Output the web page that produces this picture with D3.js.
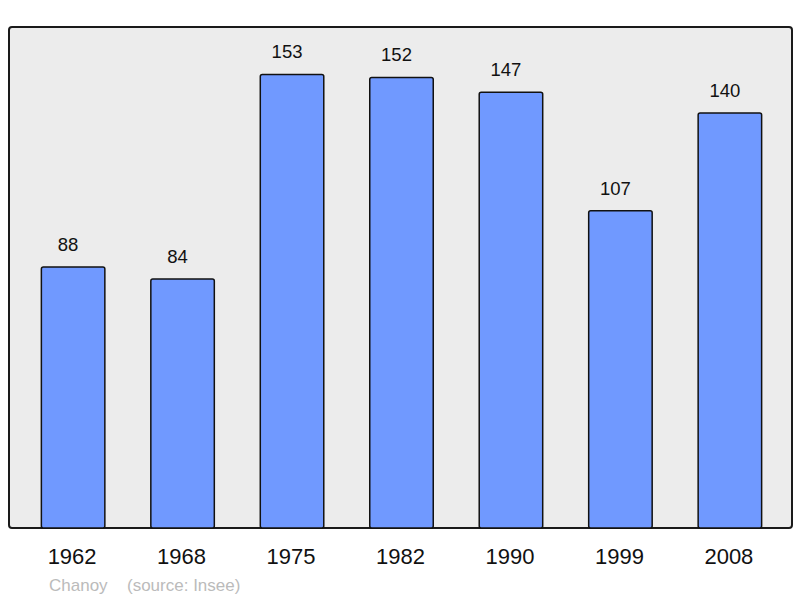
<!DOCTYPE html>
<html>
<head>
<meta charset="utf-8">
<script src="https://cdn.jsdelivr.net/npm/d3@7"></script>
<style>
body { margin: 0; background: #fff; }
text { font-family: "Liberation Sans", Arial, sans-serif; }
</style>
</head>
<body>
<svg width="800" height="598"></svg>
<script>
var years = ['1962', '1968', '1975', '1982', '1990', '1999', '2008']
var population = [88, 84, 153, 152, 147, 107, 140]
var commune = 'Chanoy'
var source = '(source: Insee)'

var svg = d3.select('svg')

// plot frame (avoid "top", it clashes with window.top)
var plotLeft = 9, plotRight = 792, plotTop = 27, plotBottom = 528

var x = d3.scaleBand()
	.domain(years)
	.range([plotLeft + 5, plotRight - 3])
	.paddingInner(0.42)
	.paddingOuter(0.25)

var y = d3.scaleLinear()
	.domain([0, 169])
	.range([plotBottom, plotTop])

// plot background
svg.append('rect')
	.attr('x', plotLeft)
	.attr('y', plotTop)
	.attr('width', plotRight - plotLeft)
	.attr('height', plotBottom - plotTop)
	.attr('rx', 3)
	.attr('fill', '#ececec')
	.attr('stroke', '#1a1a1a')
	.attr('stroke-width', 2)

svg.append('g').selectAll('rect')
	.data(population)
	.enter().append('rect')
	.attr('x', function(d, i) {return x(years[i])})
	.attr('y', function(d) {return y(d)})
	.attr('width', x.bandwidth())
	.attr('height', function(d) {return y(0) - y(d)})
	.attr('rx', 2)
	.attr('fill', '#7099ff')
	.attr('stroke', '#111')
	.attr('stroke-width', 1.5)

// value labels sit a little left of the bar centre, as in the original
svg.append('g').selectAll('text')
	.data(population)
	.enter().append('text')
	.attr('x', function(d, i) {return x(years[i]) + x.bandwidth() / 2 - 5})
	.attr('y', function(d) {return y(d) - 16})
	.attr('text-anchor', 'middle')
	.attr('font-size', 18.5)
	.attr('fill', '#111')
	.text(function(d) {return d})

// year labels
svg.append('g').selectAll('text')
	.data(years)
	.enter().append('text')
	.attr('x', function(d) {return x(d) + x.bandwidth() / 2 - 1})
	.attr('y', 564)
	.attr('text-anchor', 'middle')
	.attr('font-size', 22)
	.attr('fill', '#111')
	.text(function(d) {return d})

svg.append('text')
	.attr('x', 49)
	.attr('y', 591)
	.attr('font-size', 17)
	.attr('fill', '#bbb')
	.text(commune)

svg.append('text')
	.attr('x', 127)
	.attr('y', 591)
	.attr('font-size', 17)
	.attr('fill', '#bbb')
	.text(source)
</script>
</body>
</html>
